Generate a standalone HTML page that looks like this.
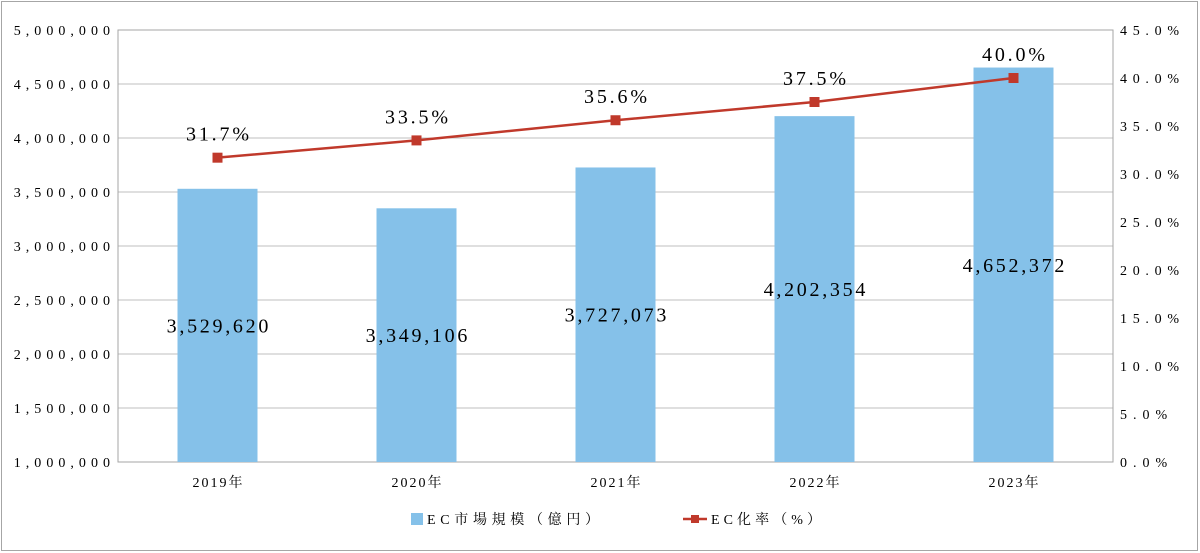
<!DOCTYPE html>
<html><head><meta charset="utf-8"><style>
body{margin:0;background:#fff;}
svg{display:block;font-family:"Liberation Serif","Noto Serif CJK SC","Noto Sans CJK JP",serif;}
</style></head><body>
<svg id="chart" width="1200" height="553" viewBox="0 0 1200 553" xmlns="http://www.w3.org/2000/svg">
<rect x="1.5" y="1.5" width="1196" height="549" fill="#fff" stroke="#a6a6a6"/>
<g id="grid"></g><g id="bars"></g><g id="line"></g><g id="labels"></g>
<g>
<rect x="411" y="513" width="12" height="12" fill="#85c1e9"/>
<text x="427" y="524" font-size="14" textLength="172" lengthAdjust="spacing">EC市場規模（億円）</text>
<line x1="683" y1="519" x2="707" y2="519" stroke="#c0392b" stroke-width="2.5"/>
<rect x="691" y="515" width="8" height="8" fill="#c0392b"/>
<text x="711" y="524" font-size="14" textLength="110" lengthAdjust="spacing">EC化率（%）</text>
</g>
</svg>
<script>
const categories=["2019年","2020年","2021年","2022年","2023年"];
const marketValues=[3529620,3349106,3727073,4202354,4652372];
const ecRates=[31.7,33.5,35.6,37.5,40.0];
const leftTicks=[1000000,1500000,2000000,2500000,3000000,3500000,4000000,4500000,5000000];
const rightTicks=[0,5,10,15,20,25,30,35,40,45];
const NS="http://www.w3.org/2000/svg";
const L=118,R=1113,T=30,B=462;
const yL=v=>B-(v-1000000)/4000000*(B-T);
const yR=v=>B-v/45*(B-T);
const bw=(R-L)/categories.length;
const xC=i=>L+bw*(i+0.5);
function mk(tag,attrs,parent,txt){const e=document.createElementNS(NS,tag);for(const k in attrs)e.setAttribute(k,attrs[k]);if(txt!==undefined)e.textContent=txt;parent.appendChild(e);return e;}
const grid=document.getElementById('grid'),bars=document.getElementById('bars'),line=document.getElementById('line'),labels=document.getElementById('labels');
leftTicks.forEach(v=>{const y=yL(v);
 const g=mk('line',{x1:L,x2:R,y1:y,y2:y,stroke:'#bfbfbf','stroke-width':1},grid);
 
 
 const s=v.toLocaleString('en-US');
 const t=mk('text',{x:L-8,y:y+5,'text-anchor':'end','font-size':14,textLength:s.length*10.7,lengthAdjust:'spacing'},grid,s);
 
 });
rightTicks.forEach(v=>{const y=yR(v);
 const s=v.toFixed(1)+'%';
 const t=mk('text',{x:R+7,y:y+5,'text-anchor':'start','font-size':14,textLength:s.length*11.8,lengthAdjust:'spacing'},grid,s);
 
 });
const ax=mk('rect',{x:L,y:T,width:R-L,height:B-T,fill:'none',stroke:'#a6a6a6'},grid);


categories.forEach((c,i)=>{
 const t=mk('text',{x:xC(i),y:B+25,'text-anchor':'middle','font-size':14,textLength:50,lengthAdjust:'spacing'},grid,c);
 
 
 const y=yL(marketValues[i]);
 const b=mk('rect',{x:xC(i)-40,y:y,width:80,height:B-y,fill:'#85c1e9'},bars);
 
 
 const s=marketValues[i].toLocaleString('en-US');
 const vl=mk('text',{x:xC(i),y:(y+B)/2+7,'text-anchor':'middle','font-size':20,textLength:s.length*11.3,lengthAdjust:'spacing'},labels,s);
 
 
});
const pts=ecRates.map((v,i)=>xC(i)+','+yR(v)).join(' ');
const pl=mk('polyline',{points:pts,fill:'none',stroke:'#c0392b','stroke-width':2.5},line);


ecRates.forEach((v,i)=>{
 const m=mk('rect',{x:xC(i)-5,y:yR(v)-5,width:10,height:10,fill:'#c0392b'},line);
 
 
 const s=v.toFixed(1)+'%';
 const t=mk('text',{x:xC(i),y:yR(v)-17,'text-anchor':'middle','font-size':20,textLength:s.length*12.6,lengthAdjust:'spacing'},labels,s);
 
 
});
</script>
</body></html>
